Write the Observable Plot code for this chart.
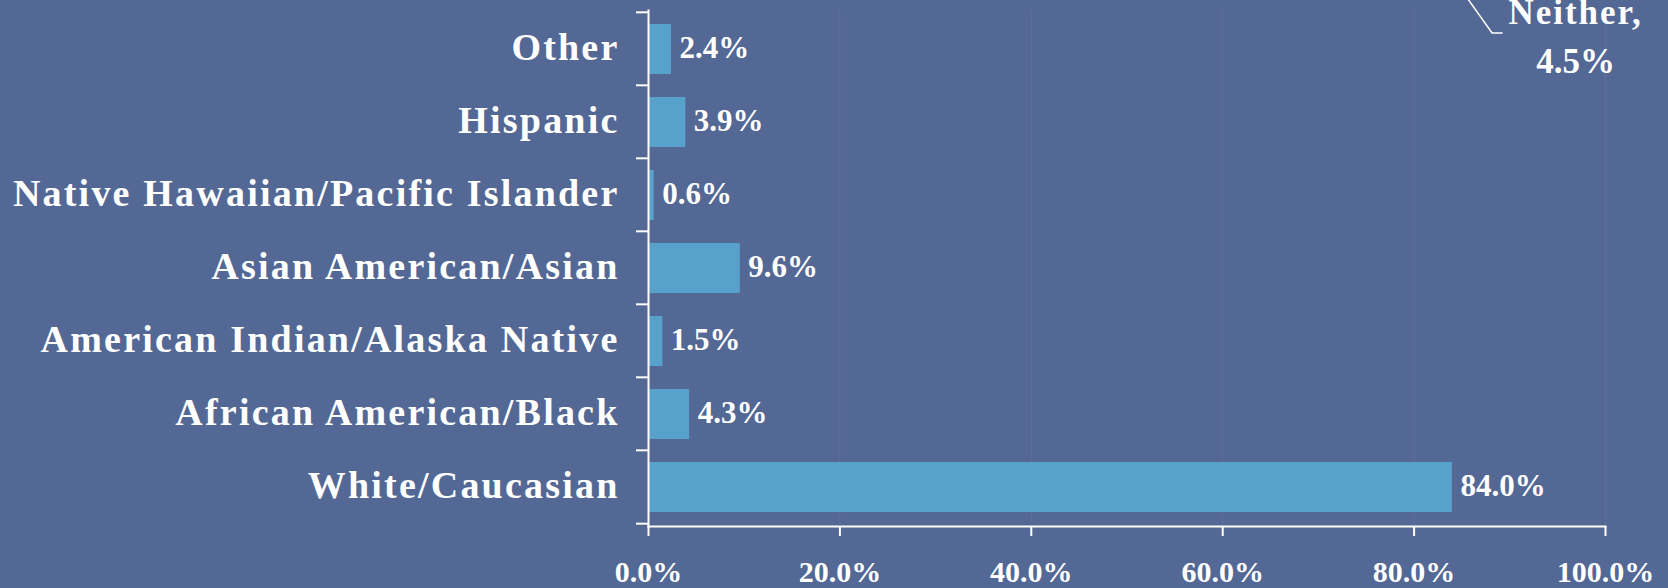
<!DOCTYPE html>
<html>
<head>
<meta charset="utf-8">
<script src="https://cdn.jsdelivr.net/npm/d3@7"></script>
<script src="https://cdn.jsdelivr.net/npm/@observablehq/plot@0.6"></script>
<style>
  html, body { margin: 0; padding: 0; background: #536894; overflow: hidden; }
  #chart svg { display: block; }
  .ylab text { letter-spacing: 2.2px; }
  .neither { letter-spacing: 2px; }
</style>
</head>
<body>
<div id="chart"></div>
<script>
// Categories listed top to bottom as drawn
const categories = [
  "Other",
  "Hispanic",
  "Native Hawaiian/Pacific Islander",
  "Asian American/Asian",
  "American Indian/Alaska Native",
  "African American/Black",
  "White/Caucasian"
];
const values = [2.4, 3.9, 0.6, 9.6, 1.5, 4.3, 84.0];
const xTicks = [0, 20, 40, 60, 80, 100];
const annotationLabel = "Neither,";
const annotationValue = "4.5%";

const data = categories.map((c, i) => ({category: c, value: values[i]}));
const fmt = d => d.toFixed(1) + "%";

const WHITE = "#ffffff";
const BAR = "#58a1ca";
const FONT = "'Liberation Serif', 'Times New Roman', serif";

const chart = Plot.plot({
  width: 1668,
  height: 588,
  marginLeft: 648,
  marginRight: 63,
  marginTop: 10,
  marginBottom: 62,
  style: {background: "#536894", color: WHITE, fontFamily: FONT, overflow: "visible"},
  x: {domain: [0, 100], ticks: xTicks, label: null},
  y: {domain: categories, paddingInner: 0.32, paddingOuter: 0.16, label: null},
  marks: [
    Plot.gridX(xTicks.slice(1), {stroke: "#7070a8", strokeOpacity: 0.45, strokeWidth: 1}),
    Plot.barX(data, {x: "value", y: "category", fill: BAR}),
    Plot.text(data, {
      x: "value", y: "category", text: d => fmt(d.value),
      textAnchor: "start", dx: 8, dy: -1, fill: WHITE, fontWeight: "bold", fontSize: 31
    }),
    Plot.axisX({
      ticks: xTicks, tickFormat: fmt, tickSize: 10, tickPadding: 24, label: null,
      stroke: WHITE, strokeWidth: 2, fill: WHITE, fontSize: 30, fontWeight: "bold"
    }),
    Plot.axisY({
      tickSize: 0, tickPadding: 29, label: null, className: "ylab", dy: -2,
      fill: WHITE, fontSize: 38, fontWeight: "bold"
    }),
    Plot.frame({anchor: "left", stroke: WHITE, strokeWidth: 2}),
    Plot.frame({anchor: "bottom", stroke: WHITE, strokeWidth: 2}),
    Plot.text([annotationLabel], {
      frameAnchor: "top-right", text: d => d, dx: -30, dy: 13,
      textAnchor: "middle", lineAnchor: "bottom", className: "neither",
      fill: WHITE, fontWeight: "bold", fontSize: 35
    }),
    Plot.text([annotationValue], {
      frameAnchor: "top-right", text: d => d, dx: -30, dy: 62,
      textAnchor: "middle", lineAnchor: "bottom",
      fill: WHITE, fontWeight: "bold", fontSize: 35
    })
  ]
});

document.getElementById("chart").appendChild(chart);

// Band-boundary ticks on the category axis, from the chart's own y scale
const ys = chart.scale("y");
const step = ys.step;
const halfGap = step * 0.32 / 2;
const svg = d3.select(chart);
const boundaries = categories.map(c => ys.apply(c) - halfGap);
boundaries.push(ys.apply(categories[categories.length - 1]) + ys.bandwidth + halfGap);
svg.append("g")
  .attr("stroke", WHITE).attr("stroke-width", 2)
  .selectAll("line").data(boundaries).join("line")
  .attr("x1", 648 - 12).attr("x2", 648)
  .attr("y1", d => d).attr("y2", d => d);

// Leader line of the cut-off "Neither" label (x in data units)
const xs = chart.scale("x");
svg.append("path")
  .attr("fill", "none").attr("stroke", WHITE).attr("stroke-width", 1.5)
  .attr("d", d3.line()([[xs.apply(85.6), -2], [xs.apply(88.2), 33], [xs.apply(89.3), 33]]));
</script>
</body>
</html>
